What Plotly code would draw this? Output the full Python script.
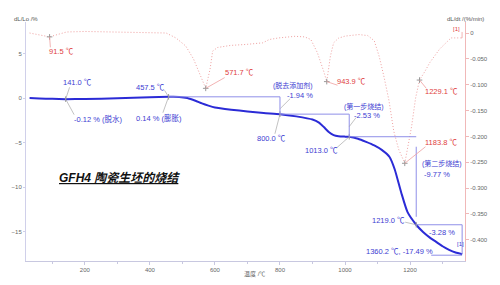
import plotly.graph_objects as go

# ---- data ----
temp_dl = [30, 60, 100, 141, 200, 300, 400, 457.5, 490, 515, 540, 560, 580, 600, 650, 700, 750, 800,
           850, 900, 920, 935, 950, 965, 980, 1000, 1013, 1040, 1065, 1090, 1113, 1137, 1153, 1173,
           1192, 1219, 1240, 1260, 1280, 1300, 1320, 1340, 1360.2]
dl_lo = [0.0, -0.04, -0.09, -0.12, -0.10, -0.03, 0.08, 0.14, 0.13, 0.0, -0.3, -0.6, -0.85, -1.05, -1.3,
         -1.5, -1.68, -1.80, -2.05, -2.4, -2.75, -3.25, -3.8, -4.15, -4.28, -4.32, -4.33, -4.55, -4.9,
         -5.3, -5.8, -6.6, -8.0, -10.6, -12.75, -14.19, -15.0, -15.6, -16.1, -16.6, -17.0, -17.3, -17.49]

temp_dt = [30, 50, 70, 91.5, 110, 144, 200, 300, 400, 450, 480, 510, 534, 554, 571.7, 585, 593, 608,
           648, 697, 747, 767, 796, 846, 876, 895, 915, 935, 943.9, 955, 965, 980, 1000, 1043, 1070,
           1090, 1105, 1120, 1135, 1150, 1165, 1183.8, 1195, 1205, 1217, 1229.1, 1245, 1261, 1291,
           1326, 1355]
dl_dt = [0.0, -0.002, -0.005, -0.0075, -0.004, 0.002, 0.003, 0.002, 0.001, 0.0, -0.0095, -0.025,
         -0.05, -0.082, -0.107, -0.07, -0.035, -0.028, -0.024, -0.022, -0.019, -0.0126, -0.0095,
         -0.0064, -0.0075, -0.0126, -0.038, -0.075, -0.094, -0.045, -0.019, -0.01, -0.006, -0.003,
         -0.005, -0.015, -0.045, -0.085, -0.13, -0.19, -0.225, -0.252, -0.215, -0.18, -0.126,
         -0.091, -0.075, -0.057, -0.031, -0.0095, -0.0095]

peak_t = [91.5, 571.7, 943.9, 1183.8, 1229.1]
peak_v = [-0.0075, -0.107, -0.094, -0.252, -0.091]

step_t = [141.0, 457.5, 800.0, 1013.0, 1219.0, 1360.2]
step_v = [-0.12, 0.14, -1.80, -4.33, -14.19, -17.49]

x_ticks = [200, 400, 600, 800, 1000, 1200]
y_ticks = [5, 0, -5, -10, -15]
y2_ticks = [0, -0.05, -0.10, -0.15, -0.20, -0.25, -0.30, -0.35, -0.40]
y2_ticklabels = ["0", "-0.050", "-0.100", "-0.150", "-0.200", "-0.250", "-0.300", "-0.350", "-0.400"]

BLUE = "#2b2bd6"
LBLUE = "#8f8fe8"
TBLUE = "#3c3cd2"
RED = "#e04040"
PINK = "#efa0a0"
GRAY = "#999999"
FONT = "Liberation Sans, Arial, Noto Sans CJK SC, sans-serif"

fig = go.Figure()
fig.add_trace(go.Scatter(x=temp_dt, y=dl_dt, yaxis="y2", mode="lines",
                         line=dict(color=PINK, width=1, dash="1px,2px"), hoverinfo="skip"))
fig.add_trace(go.Scatter(x=temp_dl, y=dl_lo, mode="lines",
                         line=dict(color=BLUE, width=2, shape="spline", smoothing=0.5), hoverinfo="skip"))
fig.add_trace(go.Scatter(x=peak_t, y=peak_v, yaxis="y2", mode="markers",
                         marker=dict(symbol="cross-thin", size=4, line=dict(color=GRAY, width=1))))
fig.add_trace(go.Scatter(x=step_t[:5], y=step_v[:5], mode="markers",
                         marker=dict(symbol="line-ns", size=4, line=dict(color=GRAY, width=1))))

shapes = []
def seg(x0, y0, x1, y1, yref="y", color=LBLUE, width=1):
    shapes.append(dict(type="line", xref="x", yref=yref, x0=x0, y0=y0, x1=x1, y1=y1,
                       line=dict(color=color, width=width)))

# step brackets
seg(step_t[1], step_v[1], step_t[2], step_v[1]); seg(step_t[2], step_v[1], step_t[2], step_v[2])
seg(step_t[2], step_v[2], step_t[3], step_v[2]); seg(step_t[3], step_v[2], step_t[3], step_v[3])
seg(step_t[3], step_v[3], step_t[4], step_v[3]); seg(step_t[4], -5.45, step_t[4], -13.3)
seg(step_t[4], step_v[4], step_t[5], step_v[4]); seg(step_t[5], step_v[4], step_t[5], step_v[5])
seg(1265, -17.6, 1360, -17.6)
# blue leaders
seg(141, -0.12, 153, 1.2, color=GRAY, width=0.6); seg(141, -0.12, 167, -1.86, color=GRAY, width=0.6)
seg(457.5, 0.14, 445, 0.87, color=GRAY, width=0.6); seg(457.5, 0.14, 440, -1.64, color=GRAY, width=0.6)
seg(801, -1.17, 831, -0.08, color=GRAY, width=0.6); seg(800, -1.80, 784.5, -4.0, color=GRAY, width=0.6)
seg(1013, -3.2, 1034, -2.19, color=GRAY, width=0.6); seg(1013, -4.33, 974.5, -5.57, color=GRAY, width=0.6)
seg(1219, -14.19, 1185, -13.9, color=GRAY, width=0.6)
# red leaders
seg(91.5, -0.0075, 94, -0.0277, "y2", PINK, 0.8); seg(571.7, -0.107, 630, -0.0862, "y2", PINK, 0.8)
seg(943.9, -0.094, 977, -0.101, "y2", PINK, 0.8); seg(1183.8, -0.252, 1247.5, -0.220, "y2", PINK, 0.8)
seg(1229.1, -0.091, 1250, -0.107, "y2", PINK, 0.8)
seg(1355, -0.0095, 1360, -0.0095, "y2", PINK, 0.8); seg(1360, -0.0095, 1360, 0.002, "y2", PINK, 0.8)

ann = []
def txt(x, y, s, color, yref="y", size=7.5):
    ann.append(dict(x=x, y=y, xref="x", yref=yref, text=s, showarrow=False,
                    font=dict(family=FONT, size=size, color=color), xanchor="center", yanchor="middle"))

txt(129, -0.0366, "91.5 ℃", RED, "y2")
txt(675, -0.0755, "571.7 ℃", RED, "y2")
txt(1019, -0.0938, "943.9 ℃", RED, "y2")
txt(1295, -0.2126, "1183.8 ℃", RED, "y2")
txt(1298, -0.113, "1229.1 ℃", RED, "y2")
txt(1342, 0.0081, "[1]", RED, "y2", 6)

txt(176, 1.75, "141.0 ℃", TBLUE)
txt(239, -2.37, "-0.12 % (脱水)", TBLUE)
txt(402, 1.2, "457.5 ℃", TBLUE)
txt(429, -2.19, "0.14 % (膨胀)", TBLUE)
txt(841, 1.39, "(脱去添加剂)", TBLUE, size=7)
txt(862, 0.30, "-1.94 %", TBLUE)
txt(773, -4.54, "800.0 ℃", TBLUE)
txt(1058, -0.98, "(第一步烧结)", TBLUE, size=7)
txt(1069, -2.0, "-2.53 %", TBLUE)
txt(927, -5.9, "1013.0 ℃", TBLUE)
txt(1298, -7.36, "(第二步烧结)", TBLUE, size=7)
txt(1283, -8.56, "-9.77 %", TBLUE)
txt(1135, -13.66, "1219.0 ℃", TBLUE)
txt(1298, -15.1, "-3.28 %", TBLUE)
txt(1167, -17.2, "1360.2 ℃, -17.49 %", TBLUE)
txt(1354, -16.3, "[1]", TBLUE, size=6)

ann.append(dict(x=(50 - 18) / 455, y=(267 - 181.7) / 245, xref="paper", yref="paper",
                text="<b><i><u>GFH4 陶瓷生坯的烧结</u></i></b>", showarrow=False, xanchor="left",
                font=dict(family="Liberation Sans, Noto Sans CJK SC, sans-serif", size=12, color="#111")))
ann.append(dict(x=0, y=1.033, xref="paper", yref="paper", text="dL/Lo /%", showarrow=False,
                font=dict(family=FONT, size=6, color="#555"), xanchor="center"))
ann.append(dict(x=1.002, y=1.033, xref="paper", yref="paper", text="dL/dt /(%/min)", showarrow=False,
                font=dict(family=FONT, size=6, color="#555"), xanchor="center"))
ann.append(dict(x=0.521, y=-0.053, xref="paper", yref="paper", text="温度 /℃", showarrow=False,
                font=dict(family=FONT, size=6, color="#666"), xanchor="center", yanchor="middle"))

tickfont = dict(family=FONT, size=6, color="#666")
fig.update_layout(
    width=500, height=285, margin=dict(l=18, r=27, t=22, b=18),
    paper_bgcolor="white", plot_bgcolor="white", showlegend=False,
    shapes=shapes, annotations=ann,
    xaxis=dict(range=[19, 1369], tickvals=x_ticks, showgrid=False, zeroline=False,
               showline=True, linecolor="#c8c8e0", linewidth=1, ticks="outside", ticklen=3,
               tickcolor="#c8c8e0", tickfont=tickfont,
               minor=dict(dtick=100, tick0=0, ticks="outside", ticklen=2, tickcolor="#c8c8e0")),
    yaxis=dict(range=[-18.25, 8.52], tickvals=y_ticks, showgrid=False, zeroline=False,
               showline=True, linecolor="#d0d0ea", linewidth=1, ticks="outside", ticklen=2,
               tickcolor="#d0d0ea", tickfont=tickfont),
    yaxis2=dict(range=[-0.441, 0.0213], overlaying="y", side="right", tickvals=y2_ticks,
                ticktext=y2_ticklabels, showgrid=False, zeroline=False, showline=True,
                linecolor="#f0b8b8", linewidth=1, ticks="outside", ticklen=3, tickcolor="#f0b8b8",
                tickfont=tickfont),
)
fig.write_html("out.html")
